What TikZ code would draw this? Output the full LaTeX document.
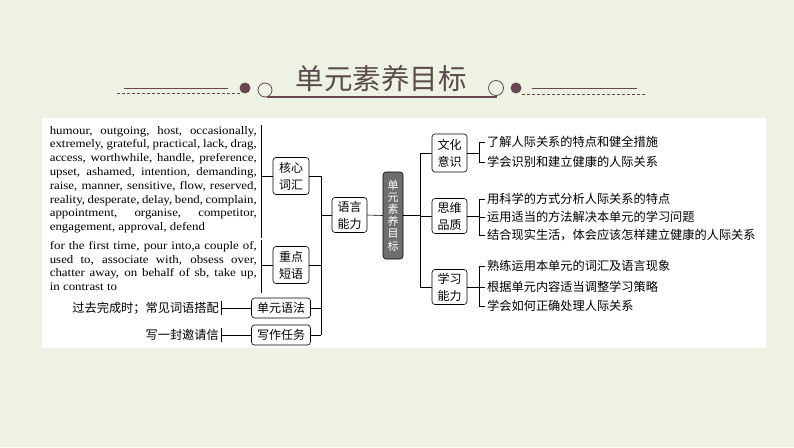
\documentclass[tikz,border=0pt]{standalone}
\usepackage{fontspec}
\newfontfamily\wordfont[FakeStretch=1.12]{Liberation Serif}
\newfontfamily\cjk{Noto Sans CJK SC}
\definecolor{bgcol}{HTML}{EDF2E2}
\definecolor{plum}{HTML}{6B4651}
\definecolor{titlecol}{HTML}{5C4B4E}
\definecolor{goalcol}{HTML}{6E6E6E}
\tikzset{
  box/.style={draw, rounded corners=3pt, line width=0.6pt, align=center, inner sep=1pt,
    font=\cjk\fontsize{12}{17}\selectfont, minimum width=36pt, minimum height=37pt},
  widebox/.style={box, minimum width=59pt, minimum height=20pt},
  goalbox/.style={box, fill=goalcol, text=white, minimum width=20pt, minimum height=87pt,
    font=\cjk\fontsize{11}{12.2}\selectfont},
  item/.style={inner xsep=2pt, inner ysep=1pt, font=\cjk\fontsize{12.2}{14}\selectfont},
  words/.style={align=left, inner xsep=4pt, inner ysep=1pt, font=\wordfont\fontsize{11.5}{13.8}\selectfont},
  link/.style={line width=0.6pt}
}
\newcommand{\wline}[1]{\makebox[207pt][s]{#1}}
\begin{document}
\begin{tikzpicture}[x=1pt, y=-1pt]
  \useasboundingbox (0,0) rectangle (794,447);
  \fill[bgcol] (0,0) rectangle (794,447);
  \fill[white] (42,118) rectangle (766,348);

  % heading
  \node[text=titlecol, font=\cjk\fontsize{28.5}{30}\selectfont] (title) at (381,79) {单元素养目标};
  \draw[plum, line width=0.8pt] (124,88) -- (228,88);
  \draw[plum, line width=0.6pt, dash pattern=on 3pt off 2pt] (117,93) -- (240,93);
  \fill[plum] (245,88) circle (5.5);
  \draw[plum, line width=0.8pt] (265,90) circle (7);
  \draw[plum, line width=1.8pt] (267,97) -- (497,97);
  \draw[plum, line width=0.8pt] (496,88) circle (7.5);
  \fill[plum] (516,88) circle (5.5);
  \draw[plum, line width=0.8pt] (532,88) -- (637,88);
  \draw[plum, line width=0.6pt, dash pattern=on 3pt off 2pt] (522,94) -- (645,94);

  % left part
  \node[words, anchor=north east] (vocab) at (261,125) {%
    \wline{humour, outgoing, host, occasionally,}\\
    \wline{extremely, grateful, practical, lack, drag,}\\
    \wline{access, worthwhile, handle, preference,}\\
    \wline{upset, ashamed, intention, demanding,}\\
    \wline{raise, manner, sensitive, flow, reserved,}\\
    \wline{reality, desperate, delay, bend, complain,}\\
    \wline{appointment, organise, competitor,}\\
    engagement, approval, defend};
  \node[words, anchor=north east] (phrase) at (261,240) {%
    \wline{for the first time, pour into,a couple of,}\\
    \wline{used to, associate with, obsess over,}\\
    \wline{chatter away, on behalf of sb, take up,}\\
    in contrast to};
  \node[item, anchor=east] (gram) at (221,308) {过去完成时；常见词语搭配};
  \node[item, anchor=east] (task) at (221,335) {写一封邀请信};

  \node[box] (hexin) at (291,176) {核心\\词汇};
  \node[box] (zhongdian) at (291,265) {重点\\短语};
  \node[widebox] (yufa) at (281,308) {单元语法};
  \node[widebox] (xiezuo) at (281,335) {写作任务};
  \node[box, minimum width=35pt, minimum height=35pt] (yuyan) at (349.5,215) {语言\\能力};
  \node[goalbox] (goal) at (393,215.5) {单\\元\\素\\养\\目\\标};

  % right part
  \node[box, minimum width=35pt, minimum height=38pt] (wenhua) at (449.5,153) {文化\\意识};
  \node[box, minimum width=35pt, minimum height=35pt] (siwei) at (449.5,216) {思维\\品质};
  \node[box, minimum width=35pt, minimum height=35pt] (xuexi) at (449.5,287) {学习\\能力};

  \node[item, anchor=west] (w1) at (485,142) {了解人际关系的特点和健全措施};
  \node[item, anchor=west] (w2) at (485,162) {学会识别和建立健康的人际关系};
  \node[item, anchor=west] (s1) at (485,199) {用科学的方式分析人际关系的特点};
  \node[item, anchor=west] (s2) at (485,217) {运用适当的方法解决本单元的学习问题};
  \node[item, anchor=west] (s3) at (485,235) {结合现实生活，体会应该怎样建立健康的人际关系};
  \node[item, anchor=west] (x1) at (485,266) {熟练运用本单元的词汇及语言现象};
  \node[item, anchor=west] (x2) at (485,287) {根据单元内容适当调整学习策略};
  \node[item, anchor=west] (x3) at (485,306) {学会如何正确处理人际关系};

  \coordinate (lb) at (321,0);
  \coordinate (rb) at (420,0);
  \coordinate (sb) at (479,0);

  \begin{scope}[link]
    \draw (vocab.north east) -- ([yshift=-4pt]vocab.south east);
    \draw (phrase.north east) -- ([yshift=-1pt]phrase.south east);
    \draw (gram.north east) -- (gram.south east);
    \draw (task.north east) -- (task.south east);
    \draw (hexin.west) -- (hexin.west -| vocab.east);
    \draw (zhongdian.west) -- (zhongdian.west -| phrase.east);
    \draw (gram.east) -- (yufa.west);
    \draw (task.east) -- (xiezuo.west);
    \draw (hexin.east) -- (hexin.east -| lb);
    \draw (zhongdian.east) -- (zhongdian.east -| lb);
    \draw (yufa.east) -- (yufa.east -| lb);
    \draw (xiezuo.east) -- (xiezuo.east -| lb);
    \draw (hexin.east -| lb) -- (xiezuo.east -| lb);
    \draw (yuyan.west -| lb) -- (yuyan.west);
    \draw (yuyan.east) -- (goal.west);
    \draw (goal.east) -- (goal.east -| rb);
    \draw (wenhua.west -| rb) -- (xuexi.west -| rb);
    \draw (wenhua.west -| rb) -- (wenhua.west);
    \draw (siwei.west -| rb) -- (siwei.west);
    \draw (xuexi.west -| rb) -- (xuexi.west);
    \draw (wenhua.east) -- (wenhua.east -| sb);
    \draw (w1.west -| sb) -- (w2.west -| sb);
    \draw (w1.west -| sb) -- (w1.west);
    \draw (w2.west -| sb) -- (w2.west);
    \draw (siwei.east) -- (siwei.east -| sb);
    \draw (s1.west -| sb) -- (s3.west -| sb);
    \draw (s1.west -| sb) -- (s1.west);
    \draw (s2.west -| sb) -- (s2.west);
    \draw (s3.west -| sb) -- (s3.west);
    \draw (xuexi.east) -- (xuexi.east -| sb);
    \draw (x1.west -| sb) -- (x3.west -| sb);
    \draw (x1.west -| sb) -- (x1.west);
    \draw (x2.west -| sb) -- (x2.west);
    \draw (x3.west -| sb) -- (x3.west);
  \end{scope}
\end{tikzpicture}
\end{document}
